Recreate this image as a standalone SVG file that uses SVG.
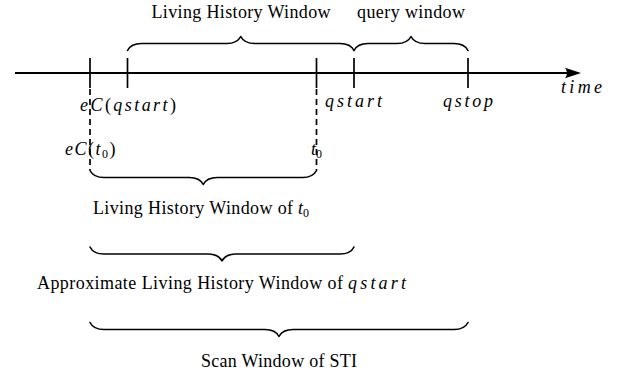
<svg xmlns="http://www.w3.org/2000/svg" width="623" height="376" viewBox="0 0 623 376">
  <style>
    .lbl { font-family: "Liberation Serif", "Times New Roman", serif; font-size: 18px; fill: #000; }
    .m { font-style: italic; }
    .up { font-style: normal; }
    .sub { font-style: normal; font-size: 12px; }
    .axis { stroke: #000; stroke-width: 2.2; fill: none; }
    .tick { stroke: #000; stroke-width: 1.7; fill: none; }
    .dash { stroke: #000; stroke-width: 1.7; fill: none; stroke-dasharray: 6 4; }
    .brace { stroke: #000; stroke-width: 1.6; fill: none; stroke-linejoin: round; stroke-linecap: round; }
  </style>

  <!-- time axis with tick marks -->
  <g id="axis">
    <line class="axis" x1="15" y1="73" x2="572" y2="73"/>
    <path d="M581,73 L565,67.8 Q569,73 565,78.2 Z" fill="#000"/>
    <line class="tick" x1="90" y1="58" x2="90" y2="88"/>
    <line class="tick" x1="127.5" y1="58" x2="127.5" y2="88"/>
    <line class="tick" x1="316.5" y1="58" x2="316.5" y2="88"/>
    <line class="tick" x1="354" y1="58" x2="354" y2="88"/>
    <line class="tick" x1="468" y1="58" x2="468" y2="88"/>
    <text class="lbl m" x="561" y="92.5" textLength="41" lengthAdjust="spacing">time</text>
  </g>

  <!-- point labels on the axis -->
  <g id="point-eC-qstart">
    <text class="lbl m" x="80" y="111" textLength="96" lengthAdjust="spacing">eC<tspan class="up">(</tspan>qstart<tspan class="up">)</tspan></text>
  </g>
  <g id="point-qstart">
    <text class="lbl m" x="325" y="107" textLength="57" lengthAdjust="spacing">qstart</text>
  </g>
  <g id="point-qstop">
    <text class="lbl m" x="443" y="107" textLength="50" lengthAdjust="spacing">qstop</text>
  </g>
  <g id="point-eC-t0">
    <text class="lbl m" x="65" y="155" letter-spacing="1.5">eC<tspan class="up">(</tspan>t<tspan class="sub" dy="3">0</tspan><tspan class="up" dy="-3">)</tspan></text>
  </g>
  <g id="point-t0">
    <text class="lbl m" x="311" y="155">t<tspan class="sub" dy="3">0</tspan></text>
  </g>

  <!-- connectors: dashed drop lines and braces -->
  <g id="connectors">
    <line class="dash" x1="90" y1="89" x2="90" y2="170"/>
    <line class="dash" x1="316.5" y1="89" x2="316.5" y2="170"/>

    <!-- upper braces (pointing up) -->
    <path class="brace" transform="translate(127.5,50.5) scale(1,-1)"
      d="M0,0 C2.1,4.2 7,7 14,7 L99.25,7 C106.25,7 111.15,9.8 113.25,14 C115.35,9.8 120.25,7 127.25,7 L212.5,7 C219.5,7 224.4,4.2 226.5,0"/>
    <path class="brace" transform="translate(354,50.5) scale(1,-1)"
      d="M0,0 C2.1,4.2 7,7 14,7 L43,7 C50,7 54.9,9.8 57,14 C59.1,9.8 64,7 71,7 L100,7 C107,7 111.9,4.2 114,0"/>

    <!-- lower braces (pointing down) -->
    <path class="brace" transform="translate(90,170.5)"
      d="M0,0 C2.1,4.2 7,7 14,7 L99.25,7 C106.25,7 111.15,9.8 113.25,14 C115.35,9.8 120.25,7 127.25,7 L212.5,7 C219.5,7 224.4,4.2 226.5,0"/>
    <path class="brace" transform="translate(90,247)"
      d="M0,0 C2.1,4.2 7,7 14,7 L118,7 C125,7 129.9,9.8 132,14 C134.1,9.8 139,7 146,7 L250,7 C257,7 261.9,4.2 264,0"/>
    <path class="brace" transform="translate(90,322.5)"
      d="M0,0 C2.1,4.2 7,7 14,7 L175,7 C182,7 186.9,9.8 189,14 C191.1,9.8 196,7 203,7 L364,7 C371,7 375.9,4.2 378,0"/>
  </g>

  <!-- window labels -->
  <g id="living-history-window">
    <text class="lbl" x="151.5" y="17.5" textLength="179" lengthAdjust="spacing">Living History Window</text>
  </g>
  <g id="query-window">
    <text class="lbl" x="357" y="17.5" textLength="108" lengthAdjust="spacing">query window</text>
  </g>
  <g id="living-history-window-t0">
    <text class="lbl" x="93" y="214" textLength="200" lengthAdjust="spacing">Living History Window of</text>
    <text class="lbl m" x="298" y="214">t<tspan class="sub" dy="3">0</tspan></text>
  </g>
  <g id="approx-living-history-window">
    <text class="lbl" x="37" y="289" textLength="306" lengthAdjust="spacing">Approximate Living History Window of</text>
    <text class="lbl m" x="348" y="289" textLength="58" lengthAdjust="spacing">qstart</text>
  </g>
  <g id="scan-window">
    <text class="lbl" x="201" y="367" textLength="156" lengthAdjust="spacing">Scan Window of STI</text>
  </g>
</svg>
